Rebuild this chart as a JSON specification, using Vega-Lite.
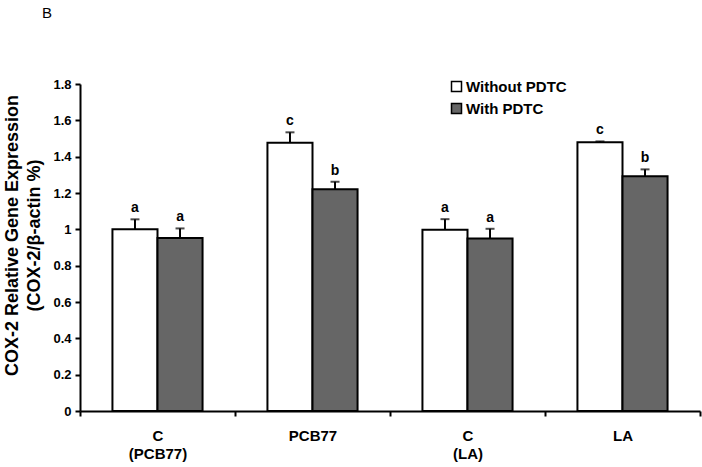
{
  "$schema": "https://vega.github.io/schema/vega-lite/v6.json",
  "width": 620,
  "height": 327,
  "autosize": {"type": "none"},
  "padding": {"left": 80, "top": 84, "right": 2, "bottom": 56},
  "background": "white",
  "title": {"text": "B", "anchor": "start", "frame": "group", "dx": -38, "offset": 57, "fontSize": 15, "fontWeight": "normal", "font": "Liberation Sans", "color": "black"},
  "config": {
    "view": {"stroke": null},
    "font": "Liberation Sans",
    "axisY": {"titleFontSize": 18, "titleFontWeight": "bold", "titleColor": "black", "titleLineHeight": 22, "titleAngle": -90, "titleAlign": "center", "titleBaseline": "top", "titleX": -77, "titleY": 151, "labelOverlap": false, "labelFontSize": 13, "labelFontWeight": "bold", "labelColor": "black", "labelPadding": 4, "tickSize": 5, "tickWidth": 2, "tickColor": "black", "domainColor": "black", "domainWidth": 2, "grid": false}
  },
  "data": {"values": [
    {"group": "C (PCB77)", "treatment": "Without PDTC", "value": 1.0, "sem": 0.055, "letter": "a"},
    {"group": "C (PCB77)", "treatment": "With PDTC", "value": 0.952, "sem": 0.053, "letter": "a"},
    {"group": "PCB77", "treatment": "Without PDTC", "value": 1.477, "sem": 0.057, "letter": "c"},
    {"group": "PCB77", "treatment": "With PDTC", "value": 1.22, "sem": 0.042, "letter": "b"},
    {"group": "C (LA)", "treatment": "Without PDTC", "value": 0.998, "sem": 0.058, "letter": "a"},
    {"group": "C (LA)", "treatment": "With PDTC", "value": 0.95, "sem": 0.053, "letter": "a"},
    {"group": "LA", "treatment": "Without PDTC", "value": 1.479, "sem": 0.005, "letter": "c"},
    {"group": "LA", "treatment": "With PDTC", "value": 1.292, "sem": 0.038, "letter": "b"}
  ]},
  "transform": [{"calculate": "datum.value + datum.sem", "as": "upper"}],
  "encoding": {
    "x": {
      "field": "group", "type": "nominal",
      "sort": ["C (PCB77)", "PCB77", "C (LA)", "LA"],
      "scale": {"paddingInner": 0, "paddingOuter": 0},
      "axis": {"title": null, "labelAngle": 0, "tickBand": "extent", "labelExpr": "split(datum.label, ' ')", "labelFontSize": 15, "labelFontWeight": "bold", "labelColor": "black", "labelPadding": 12, "labelLineHeight": 18, "domainColor": "black", "domainWidth": 2, "tickColor": "black", "tickWidth": 2, "tickSize": 5}
    },
    "xOffset": {"field": "treatment", "type": "nominal", "sort": ["Without PDTC", "With PDTC"], "scale": {"paddingOuter": 0.72, "paddingInner": 0}}
  },
  "layer": [
    {
      "mark": {"type": "bar", "stroke": "black", "strokeWidth": 2},
      "encoding": {
        "y": {
          "field": "value", "type": "quantitative",
          "scale": {"domain": [0, 1.8], "nice": false},
          "axis": {"title": ["COX-2 Relative Gene Expression", "(COX-2/β-actin %)"], "values": [0, 0.2, 0.4, 0.6, 0.8, 1, 1.2, 1.4, 1.6, 1.8], "format": "~g"}
        },
        "color": {
          "field": "treatment", "type": "nominal",
          "scale": {"domain": ["Without PDTC", "With PDTC"], "range": ["white", "#666666"]},
          "legend": {"orient": "none", "legendX": 369, "legendY": -5, "title": null, "symbolType": "square", "symbolSize": 100, "symbolStrokeColor": "black", "symbolStrokeWidth": 1.5, "labelFont": "Liberation Sans", "labelFontWeight": "bold", "labelFontSize": 15, "labelColor": "black", "rowPadding": 5, "labelOffset": 2, "padding": 0}
        }
      }
    },
    {
      "mark": {"type": "rule", "strokeWidth": 2, "color": "black"},
      "encoding": {
        "y": {"field": "value", "type": "quantitative", "axis": {"title": ["COX-2 Relative Gene Expression", "(COX-2/β-actin %)"], "values": [0, 0.2, 0.4, 0.6, 0.8, 1, 1.2, 1.4, 1.6, 1.8], "format": "~g"}},
        "y2": {"field": "upper"}
      }
    },
    {
      "mark": {"type": "tick", "orient": "horizontal", "size": 9, "thickness": 2, "color": "black"},
      "encoding": {"y": {"field": "upper", "type": "quantitative", "axis": {"title": ["COX-2 Relative Gene Expression", "(COX-2/β-actin %)"], "values": [0, 0.2, 0.4, 0.6, 0.8, 1, 1.2, 1.4, 1.6, 1.8], "format": "~g"}}}
    },
    {
      "mark": {"type": "text", "baseline": "alphabetic", "dy": -7, "fontSize": 14, "fontWeight": "bold", "color": "black"},
      "encoding": {"y": {"field": "upper", "type": "quantitative", "axis": {"title": ["COX-2 Relative Gene Expression", "(COX-2/β-actin %)"], "values": [0, 0.2, 0.4, 0.6, 0.8, 1, 1.2, 1.4, 1.6, 1.8], "format": "~g"}}, "text": {"field": "letter"}}
    }
  ]
}
